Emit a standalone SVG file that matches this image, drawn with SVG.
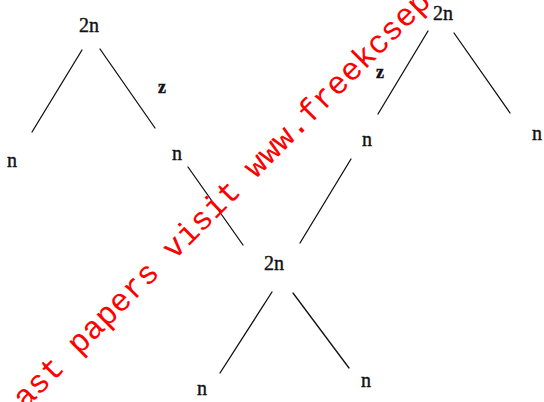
<svg xmlns="http://www.w3.org/2000/svg" width="544" height="402" viewBox="0 0 544 402">
<style>
.lbl{font-family:"Liberation Serif","Times New Roman",serif;font-size:20px;fill:#111;stroke:#111;stroke-width:0.4;text-anchor:middle}
.z{font-weight:bold;font-size:18px}
.edge{stroke:#111;stroke-width:1.3;fill:none;stroke-linecap:round}
.wm{font-family:"Liberation Mono","Courier New",monospace;font-size:32px;fill:#ff0000}
</style>
<rect width="544" height="402" fill="#fff"/>
<g id="connectors">
<line class="edge" x1="82" y1="50" x2="32" y2="132"/>
<line class="edge" x1="100" y1="49" x2="155" y2="128"/>
<line class="edge" x1="188" y1="167" x2="243" y2="245"/>
<line class="edge" x1="428" y1="31" x2="378" y2="114"/>
<line class="edge" x1="454" y1="33" x2="510" y2="113"/>
<line class="edge" x1="351" y1="159" x2="300" y2="243"/>
<line class="edge" x1="272" y1="292" x2="220" y2="373"/>
<line class="edge" x1="293" y1="293" x2="349" y2="368"/>
<text class="lbl z" x="162" y="93">z</text>
<text class="lbl z" x="380" y="78">z</text>
</g>
<g id="root1"><text class="lbl" x="89" y="32">2n</text></g>
<g id="leaf1"><text class="lbl" x="12" y="167">n</text></g>
<g id="n1"><text class="lbl" x="177" y="160">n</text></g>
<g id="root2"><text class="lbl" x="443" y="20">2n</text></g>
<g id="n2"><text class="lbl" x="367" y="146">n</text></g>
<g id="leaf2"><text class="lbl" x="537" y="140">n</text></g>
<g id="mid"><text class="lbl" x="274" y="270">2n</text></g>
<g id="leaf3"><text class="lbl" x="202" y="395">n</text></g>
<g id="leaf4"><text class="lbl" x="366" y="387">n</text></g>
<text class="wm" x="25" y="410" transform="rotate(-45 25 410)">ast papers visit www.freekcsep</text>
</svg>
